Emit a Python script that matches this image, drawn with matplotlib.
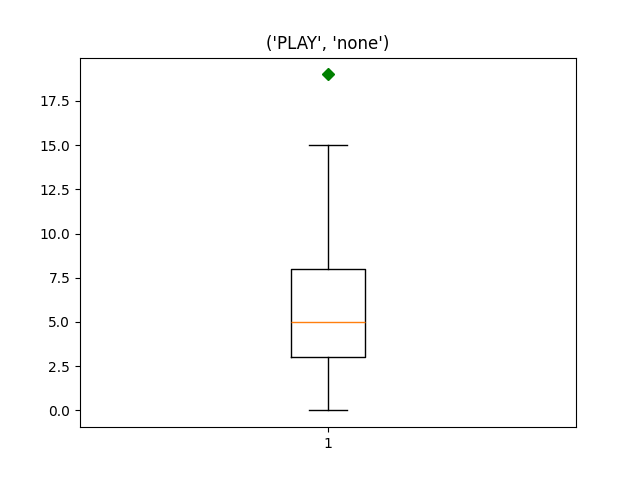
import matplotlib
matplotlib.use("Agg")
import matplotlib.pyplot as plt

# counts
title = ('PLAY', 'none')
values = [0, 1, 3, 4, 5, 7, 8, 15, 19]

fig = plt.figure(figsize=(6.4, 4.8), dpi=100)
plt.boxplot(values, sym='gD')
plt.title(str(title))
plt.savefig("out.png")
